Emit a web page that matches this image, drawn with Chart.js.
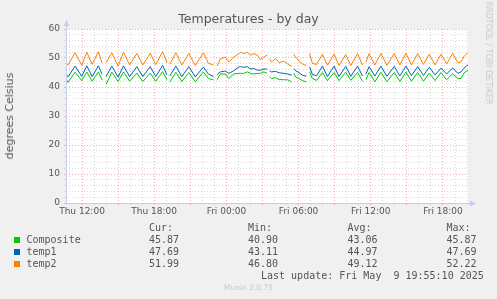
<!DOCTYPE html>
<html>
<head>
<meta charset="utf-8">
<script src="https://cdn.jsdelivr.net/npm/chart.js@4.4.1/dist/chart.umd.min.js"></script>
<style>
  html, body { margin: 0; padding: 0; background: #f0f0f0; }
  #wrap { position: relative; width: 497px; height: 299px; overflow: hidden; font-family: 'DejaVu Sans', sans-serif; color: #555; }
  #chart { position: absolute; left: 0; top: 0; }
  .t { position: absolute; white-space: pre; line-height: 12px; }
  .mono { font-family: 'DejaVu Sans Mono', monospace; font-size: 10px; }
  .sw { position: absolute; width: 6px; height: 6px; }
</style>
</head>
<body>
<div id="wrap">
  <canvas id="chart" width="497" height="299"></canvas>
  <div class="t" id="title" style="left:0;width:497px;top:13px;text-align:center;font-size:12.5px;">Temperatures - by day</div>
  <div class="t" style="left:10px;top:116px;font-size:11px;transform:translate(-50%,-50%) rotate(-90deg);">degrees Celsius</div>
  <div class="t" style="left:488px;top:53px;font-size:8px;color:#c8c8c8;transform:translate(-50%,-50%) rotate(90deg);">RRDTOOL / TOBI OETIKER</div>
  <div id="legend"></div>
  <div class="t mono" style="left:261px;top:270px;">Last update: Fri May  9 19:55:10 2025</div>
  <div class="t" style="left:0;width:497px;text-align:center;top:282px;font-size:7.5px;color:#c8c8c8;">Munin 2.0.75</div>
</div>
<script>
// time of each sample, hours since Thu 00:00 (null values = no data)
const hours = [
  10.73, 10.84, 11.42, 11.98, 12.40, 12.84, 13.36, 13.67, 13.75,
  14.00, 14.48, 15.00, 15.45, 15.96, 16.56, 17.05, 17.67, 18.13, 18.70, 19.06, 19.17,
  19.30, 19.80, 20.30, 20.88, 21.42, 22.09, 22.50, 22.92, 23.02,
  23.23, 23.50, 23.92, 24.20, 24.61, 25.03, 25.17, 25.45, 25.73, 26.00, 26.28, 26.56, 26.84, 27.11, 27.39, 27.47,
  27.59, 27.75, 28.09, 28.38, 28.78, 29.09, 29.42, 29.52,
  29.61, 29.75, 30.03, 30.31, 30.63, 30.72,
  30.92, 31.15, 31.50, 31.98, 32.40, 32.95, 33.36, 33.92, 34.34, 34.90, 35.31, 35.47,
  35.59, 35.86, 36.34, 36.84, 37.34, 37.95, 38.42, 38.92, 39.38, 39.90, 40.38, 40.86, 41.34, 41.84, 42.30, 42.81, 43.23, 43.50, 43.75, 44.08
];

const composite = [
  42.4, 41.6, 45.1, 42.2, 45.2, 42.0, 45.2, 42.4, null,
  40.9, 45.1, 41.9, 45.2, 42.0, 44.8, 41.9, 44.8, 42.0, 45.3, 42.5, null,
  41.8, 45.1, 41.9, 45.0, 41.8, 45.2, 42.9, 42.5, null,
  42.5, 44.5, 44.5, 42.9, 44.5, 44.7, 44.7, 44.7, 45.2, 44.7, 44.5, 44.7, 44.7, 45.2, 44.7, null,
  43.5, 42.9, 43.2, 42.6, 42.5, 42.5, 41.8, null,
  44.7, 43.5, 42.9, 42.2, 41.8, null,
  45.2, 42.9, 42.3, 45.0, 42.2, 45.0, 42.2, 45.1, 42.3, 45.0, 42.0, null,
  42.5, 45.0, 41.8, 45.1, 41.8, 45.0, 41.9, 45.1, 42.0, 45.0, 42.0, 44.8, 42.2, 45.0, 42.5, 44.6, 42.9, 43.0, 44.8, 45.87
];

const temp1 = [
  44.1, 43.5, 47.2, 43.7, 47.3, 43.6, 47.3, 44.4, null,
  43.6, 47.2, 43.4, 47.3, 43.6, 47.0, 43.6, 47.0, 43.6, 47.4, 44.2, null,
  43.8, 47.2, 43.6, 47.0, 43.5, 46.9, 44.5, 43.6, null,
  44.3, 45.2, 45.5, 44.7, 45.6, 46.9, 47.0, 46.8, 47.0, 46.2, 46.4, 45.8, 45.8, 46.2, 46.2, null,
  45.6, 45.2, 45.4, 44.9, 44.7, 44.5, 44.1, null,
  46.4, 45.6, 45.0, 44.1, 43.7, null,
  46.9, 44.3, 43.9, 47.2, 43.6, 47.2, 43.6, 47.1, 43.7, 47.2, 43.8, null,
  44.4, 47.0, 43.8, 47.2, 43.7, 47.1, 43.8, 47.2, 43.9, 47.0, 44.0, 46.8, 44.2, 46.5, 44.5, 46.6, 44.7, 45.2, 46.5, 47.69
];

const temp2 = [
  48.2, 47.6, 51.8, 47.5, 52.0, 47.8, 52.1, 48.2, null,
  48.4, 51.8, 47.2, 52.0, 47.6, 51.6, 47.6, 51.6, 47.7, 52.2, 48.4, null,
  47.9, 51.8, 47.6, 51.6, 47.4, 51.8, 48.2, 47.6, null,
  47.2, 49.8, 50.3, 48.6, 50.3, 51.5, 52.0, 51.5, 52.0, 51.0, 51.5, 51.0, 49.4, 50.3, 51.0, null,
  49.8, 48.6, 49.8, 48.4, 48.9, 48.0, 47.2, null,
  51.3, 50.3, 49.0, 48.0, 47.4, null,
  51.5, 48.1, 47.8, 51.3, 47.5, 51.3, 47.4, 51.2, 47.4, 51.5, 47.6, null,
  48.6, 51.5, 47.6, 51.6, 47.5, 51.5, 47.6, 51.6, 47.6, 51.5, 47.8, 51.3, 47.6, 51.3, 48.0, 51.6, 48.4, 48.6, 50.5, 51.99
];

const seriesNames = ['Composite', 'temp1', 'temp2'];
const seriesColors = ['#00cc00', '#0066b3', '#ff8000'];
const statHeads = ['Cur:', 'Min:', 'Avg:', 'Max:'];
const stats = [
  ['45.87', '40.90', '43.06', '45.87'],
  ['47.69', '43.11', '44.97', '47.69'],
  ['51.99', '46.80', '49.12', '52.22']
];
const hourTicks = [];
for (let h = 11; h <= 44; h++) hourTicks.push(h);
const yTicks = [];
for (let v = 0; v <= 60; v += 2) yTicks.push(v);

// legend table under the graph
const legend = document.getElementById('legend');
const statX = [149, 248, 347.5, 446.5];
let html = '';
statHeads.forEach((s, i) => {
  html += `<div class="t mono" style="left:${statX[i]}px;top:222px;">${s}</div>`;
});
const rowY = [240, 251.7, 264];
seriesNames.forEach((name, r) => {
  html += `<div class="sw" style="left:14px;top:${rowY[r] - 3}px;background:${seriesColors[r]}"></div>`;
  html += `<div class="t mono" style="left:26.5px;top:${rowY[r] - 6}px;">${name}</div>`;
  stats[r].forEach((v, i) => {
    html += `<div class="t mono" style="left:${statX[i]}px;top:${rowY[r] - 6}px;">${v}</div>`;
  });
});
legend.innerHTML = html;

const toPoints = vals => hours.map((h, i) => ({ x: h, y: vals[i] }));

const MAJOR = '#f0b0b0';
const MINOR = '#dadada';
const AXIS = '#c8ccf0';

// white plot area, axis lines and arrows
const munin = {
  id: 'munin',
  beforeDraw(chart) {
    const { ctx, chartArea: a } = chart;
    ctx.save();
    ctx.fillStyle = '#ffffff';
    ctx.fillRect(a.left, a.top, a.right - a.left, a.bottom - a.top);
    ctx.restore();
  },
  afterDraw(chart) {
    const { ctx, chartArea: a } = chart;
    const x0 = a.left + 0.5, y0 = a.bottom + 0.5;
    ctx.save();
    ctx.strokeStyle = AXIS;
    ctx.fillStyle = AXIS;
    ctx.lineWidth = 1;
    ctx.beginPath();
    ctx.moveTo(x0, y0);
    ctx.lineTo(x0, a.top - 4);
    ctx.moveTo(x0, y0);
    ctx.lineTo(a.right + 4, y0);
    ctx.stroke();
    ctx.beginPath();
    ctx.moveTo(x0 - 3, a.top - 3);
    ctx.lineTo(x0 + 3, a.top - 3);
    ctx.lineTo(x0, a.top - 9);
    ctx.closePath();
    ctx.fill();
    ctx.beginPath();
    ctx.moveTo(a.right + 2, y0 - 3);
    ctx.lineTo(a.right + 2, y0 + 3);
    ctx.lineTo(a.right + 8, y0);
    ctx.closePath();
    ctx.fill();
    ctx.restore();
  }
};

Chart.defaults.font.family = "'DejaVu Sans', sans-serif";
Chart.defaults.color = '#555';

new Chart(document.getElementById('chart'), {
  type: 'line',
  data: {
    datasets: seriesNames.map((name, i) => ({
      label: name,
      data: toPoints([composite, temp1, temp2][i]),
      borderColor: seriesColors[i],
      borderWidth: 1,
      pointRadius: 0,
      tension: 0,
      spanGaps: false
    }))
  },
  options: {
    responsive: false,
    animation: false,
    layout: { padding: { left: 0, top: 29, right: 29, bottom: 76 } },
    plugins: { legend: { display: false }, tooltip: { enabled: false } },
    scales: {
      x: {
        type: 'linear',
        min: 10.67,
        max: 44.08,
        afterBuildTicks: s => { s.ticks = hourTicks.map(v => ({ value: v })); },
        afterFit: s => { s.height = 20; },
        ticks: {
          autoSkip: false,
          maxRotation: 0,
          padding: 1,
          font: { size: 9 },
          callback: v => {
            if (v % 6 !== 0) return '';
            const day = v < 24 ? 'Thu' : 'Fri';
            return day + ' ' + String(v % 24).padStart(2, '0') + ':00';
          }
        },
        grid: {
          color: c => (c.tick && c.tick.value % 3 === 0 ? MAJOR : MINOR),
          lineWidth: 1,
          tickLength: 2
        },
        border: { display: false, dash: [1, 2] }
      },
      y: {
        min: 0,
        max: 60,
        afterBuildTicks: s => { s.ticks = yTicks.map(v => ({ value: v })); },
        afterFit: s => { s.width = 66; },
        ticks: {
          autoSkip: false,
          padding: 4,
          font: { size: 9 },
          callback: v => (v % 10 === 0 ? String(v) : '')
        },
        grid: {
          color: c => (c.tick && c.tick.value % 10 === 0 ? MAJOR : MINOR),
          lineWidth: 1,
          tickLength: 2
        },
        border: { display: false, dash: [1, 2] }
      }
    }
  },
  plugins: [munin]
});
</script>
</body>
</html>
